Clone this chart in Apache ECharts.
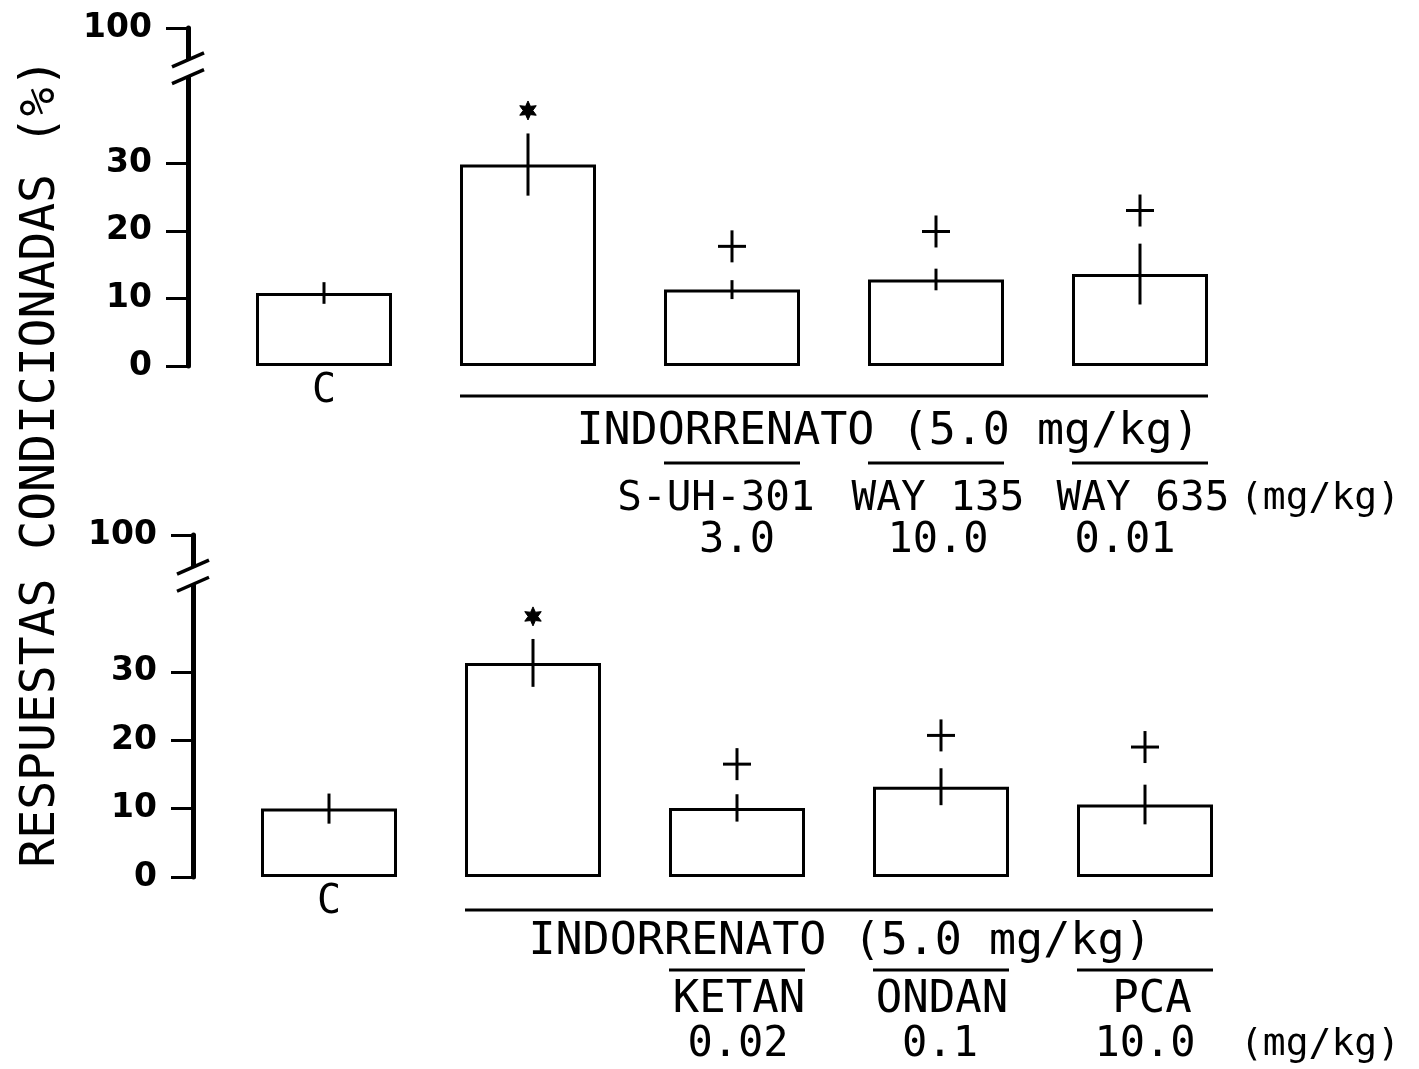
<!DOCTYPE html>
<html><head><meta charset="utf-8">
<script src="https://cdn.jsdelivr.net/npm/echarts@6/dist/echarts.min.js"></script>
<style>html,body{margin:0;padding:0;background:#fff}#c{width:1419px;height:1069px}</style>
</head><body><div id="c"></div>
<script>
// ---- data ----
const categoriesTop = ['C', 'IND', 'IND + S-UH-301', 'IND + WAY 135', 'IND + WAY 635'];
const valuesTop = [10.8, 29.8, 11.3, 12.8, 13.6];
const errorsTop = [1.6, 4.6, 1.4, 1.6, 4.5];
const starTop = [[1, 37.8]];
const plusTop = [[2, 17.7], [3, 19.9], [4, 23.0]];

const categoriesBottom = ['C', 'IND', 'IND + KETAN', 'IND + ONDAN', 'IND + PCA'];
const valuesBottom = [10.0, 31.3, 10.1, 13.2, 10.6];
const errorsBottom = [2.2, 3.5, 2.0, 2.7, 2.9];
const starBottom = [[1, 38.1]];
const plusBottom = [[2, 16.5], [3, 20.7], [4, 19.0]];

const yTickValues = [0, 10, 20, 30, 50];
const yTickLabels = {0: '0', 10: '10', 20: '20', 30: '30', 50: '100'};
const breakValues = [45.3, 42.8];

const yTitle = 'RESPUESTAS CONDICIONADAS (%)';
const groupTitle = 'INDORRENATO (5.0 mg/kg)';
const drugsTop = ['S-UH-301', 'WAY 135', 'WAY 635'];
const dosesTop = ['3.0', '10.0', '0.01'];
const drugsBottom = ['KETAN', 'ONDAN', 'PCA'];
const dosesBottom = ['0.02', '0.1', '10.0'];
const unitLabel = '(mg/kg)';

// ---- layout ----
const grids = [
  {left: 222, top: 28, width: 1020, height: 338},
  {left: 227, top: 535, width: 1020, height: 342}
];
const axisOffset = 34;
const barW = 136;
const MONO = '"DejaVu Sans Mono", monospace';
const SANS = '"DejaVu Sans", sans-serif';

const chart = echarts.init(document.getElementById('c'), null, {renderer: 'canvas'});

function errRender(params, api) {
  const x = api.value(0), v = api.value(1), e = api.value(2);
  const hi = api.coord([x, v + e]), lo = api.coord([x, v - e]);
  return {type: 'line', shape: {x1: hi[0], y1: hi[1], x2: lo[0], y2: lo[1]},
    style: {stroke: '#000', lineWidth: 3}};
}
function plusRender(params, api) {
  const p = api.coord([api.value(0), api.value(1)]);
  return {type: 'group', children: [
    {type: 'line', shape: {x1: p[0], y1: p[1] - 16, x2: p[0], y2: p[1] + 16}, style: {stroke: '#000', lineWidth: 3}},
    {type: 'line', shape: {x1: p[0] - 14, y1: p[1], x2: p[0] + 14, y2: p[1]}, style: {stroke: '#000', lineWidth: 3}}
  ]};
}
function starRender(params, api) {
  const p = api.coord([api.value(0), api.value(1)]);
  const pts = [];
  for (let k = 0; k < 12; k++) {
    const r = k % 2 === 0 ? 9.5 : 4.8;
    const a = -Math.PI / 2 + k * Math.PI / 6;
    pts.push([p[0] + r * Math.cos(a), p[1] + r * Math.sin(a)]);
  }
  return {type: 'polygon', shape: {points: pts}, style: {fill: '#000', stroke: '#000', lineWidth: 1}};
}

function panel(i, cats, vals, errs, stars, pluses) {
  return {
    xAxis: {
      type: 'category', gridIndex: i, data: cats,
      axisLine: {show: false}, axisTick: {show: false}, splitLine: {show: false},
      axisLabel: {formatter: (v, idx) => idx === 0 ? 'C' : '', fontSize: 40, fontFamily: MONO, color: '#000', margin: 6}
    },
    yAxis: {
      type: 'value', gridIndex: i, min: 0, max: 50, interval: 10, offset: axisOffset,
      splitLine: {show: false},
      axisLine: {show: true, lineStyle: {color: '#000', width: 5}},
      axisTick: {show: true, customValues: yTickValues, length: 22, lineStyle: {color: '#000', width: 3}},
      axisLabel: {customValues: yTickValues, formatter: v => yTickLabels[v], fontSize: 33, fontWeight: 'bold',
        fontFamily: SANS, color: '#000', margin: 36}
    },
    series: [
      {type: 'bar', xAxisIndex: i, yAxisIndex: i, data: vals, barWidth: barW,
        itemStyle: {color: '#fff', borderColor: '#000', borderWidth: 3}, silent: true},
      {type: 'custom', xAxisIndex: i, yAxisIndex: i, renderItem: errRender,
        data: vals.map((v, k) => [k, v, errs[k]]), z: 5},
      {type: 'custom', xAxisIndex: i, yAxisIndex: i, renderItem: plusRender, data: pluses, z: 5},
      {type: 'custom', xAxisIndex: i, yAxisIndex: i, renderItem: starRender, data: stars, z: 5}
    ]
  };
}

const p0 = panel(0, categoriesTop, valuesTop, errorsTop, starTop, plusTop);
const p1 = panel(1, categoriesBottom, valuesBottom, errorsBottom, starBottom, plusBottom);

chart.setOption({
  backgroundColor: '#fff',
  animation: false,
  grid: grids.map(g => Object.assign({containLabel: false}, g)),
  xAxis: [p0.xAxis, p1.xAxis],
  yAxis: [p0.yAxis, p1.yAxis],
  series: p0.series.concat(p1.series)
});

// ---- decorations derived from the axes ----
const gfx = [];
function txt(text, x, y, size, family, extra) {
  gfx.push(Object.assign({type: 'text', x: x, y: y, z: 10,
    style: {text: text, fill: '#000', font: size + 'px ' + family, align: 'center', verticalAlign: 'middle'}}, extra || {}));
}
function hline(x1, x2, y, w) {
  gfx.push({type: 'line', z: 10, shape: {x1: x1, y1: y, x2: x2, y2: y}, style: {stroke: '#000', lineWidth: w || 3}});
}

const panelText = [
  {lineY: 396, titleX: 888, titleY: 432, shortY: 463, drugs: drugsTop, drugX: [716, 938, 1143], drugY: 499,
    doses: dosesTop, doseX: [737, 938, 1125], doseY: 541, unitX: 1320, unitY: 499, drugSize: 41},
  {lineY: 910, titleX: 840, titleY: 942, shortY: 970, drugs: drugsBottom, drugX: [739, 942, 1152], drugY: 1001,
    doses: dosesBottom, doseX: [738, 940, 1145], doseY: 1045, unitX: 1320, unitY: 1045, drugSize: 44}
];

for (let p = 0; p < 2; p++) {
  const axisX = grids[p].left - axisOffset;
  const yU = chart.convertToPixel({yAxisIndex: p}, breakValues[0]);
  const yL = chart.convertToPixel({yAxisIndex: p}, breakValues[1]);
  gfx.push({type: 'rect', z: 9, shape: {x: axisX - 6, y: yU, width: 12, height: yL - yU}, style: {fill: '#fff'}});
  [yU, yL].forEach(y => gfx.push({type: 'line', z: 10,
    shape: {x1: axisX - 16, y1: y + 7, x2: axisX + 16, y2: y - 7}, style: {stroke: '#000', lineWidth: 3.5}}));

  const cx = k => chart.convertToPixel({xAxisIndex: p}, k);
  const t = panelText[p];
  hline(cx(1) - barW / 2, cx(4) + barW / 2, t.lineY, 3);
  txt(groupTitle, t.titleX, t.titleY, 45, MONO);
  for (let k = 2; k <= 4; k++) hline(cx(k) - barW / 2, cx(k) + barW / 2, t.shortY, 3);
  t.drugs.forEach((d, k) => txt(d, t.drugX[k], t.drugY, t.drugSize, MONO));
  t.doses.forEach((d, k) => txt(d, t.doseX[k], t.doseY, 42, MONO));
  txt(unitLabel, t.unitX, t.unitY, 38, MONO);
}
txt(yTitle, 42, 463, 48, MONO, {rotation: Math.PI / 2});

chart.setOption({graphic: {elements: gfx}});
</script>
</body></html>
